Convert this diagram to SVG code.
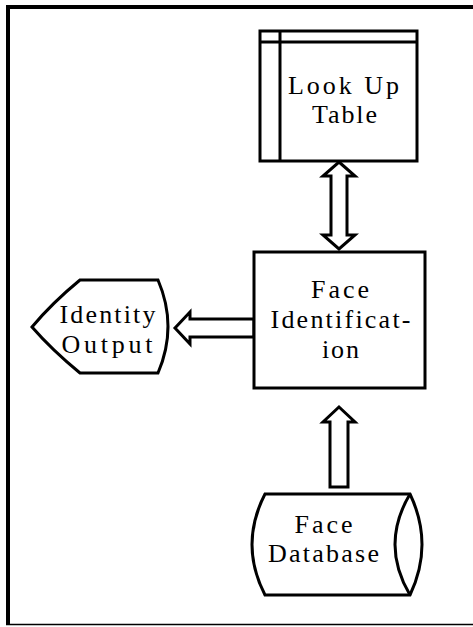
<svg xmlns="http://www.w3.org/2000/svg" width="473" height="627" viewBox="0 0 473 627">
  <style>
    .shape { fill: #fff; stroke: #000; stroke-width: 3; stroke-linejoin: miter; }
    .line { fill: none; stroke: #000; stroke-width: 3; }
    .arrow { fill: #fff; stroke: #000; stroke-width: 3; stroke-linejoin: miter; }
    text { font-family: 'Liberation Serif', 'DejaVu Serif', serif; font-size: 26px; text-anchor: middle; fill: #000; }
  </style>
  <rect width="473" height="627" fill="#fff"/>
  <!-- frame: heavy top/left, light bottom, open right -->
  <g id="frame">
    <line x1="6" y1="7" x2="473" y2="7" stroke="#000" stroke-width="4"/>
    <line x1="8" y1="5" x2="8" y2="625" stroke="#000" stroke-width="4"/>
    <line x1="6" y1="624.5" x2="473" y2="624.5" stroke="#000" stroke-width="1.5"/>
  </g>

  <g id="connectors">
    <!-- table <-> identification -->
    <path class="arrow" d="M339,162 L355,176 L347,176 L347,235 L355,235 L339,249 L323,235 L331,235 L331,176 L323,176 Z"/>
    <!-- identification -> output -->
    <path class="arrow" d="M175,328 L190,312 L190,319 L254,319 L254,337 L190,337 L190,344 Z"/>
    <!-- database -> identification -->
    <path class="arrow" d="M339,407 L355,422 L348,422 L348,487 L330,487 L330,422 L323,422 Z"/>
  </g>

  <g id="lookup-table">
    <rect class="shape" x="260" y="31" width="157" height="130"/>
    <line class="line" x1="260" y1="42" x2="417" y2="42"/>
    <line class="line" x1="280" y1="31" x2="280" y2="161"/>
    <text x="343.5" y="94" textLength="111" lengthAdjust="spacing">Look Up</text>
    <text x="344.5" y="123" textLength="65" lengthAdjust="spacing">Table</text>
  </g>

  <g id="face-identification">
    <rect class="shape" x="254" y="252" width="171" height="136"/>
    <text x="340" y="298" textLength="58" lengthAdjust="spacing">Face</text>
    <text x="340.5" y="328" textLength="140" lengthAdjust="spacing">Identificat-</text>
    <text x="340.5" y="358" textLength="37" lengthAdjust="spacing">ion</text>
  </g>

  <g id="identity-output">
    <path class="shape" d="M80,280 L158,280 Q178,326.5 158,373 L80,373 Q52,350 32,327 Q52,303 80,280 Z"/>
    <text x="107.5" y="322.5" textLength="96" lengthAdjust="spacing">Identity</text>
    <text x="107" y="352.5" textLength="91" lengthAdjust="spacing">Output</text>
  </g>

  <g id="face-database">
    <path class="shape" d="M265,494 L410,494 Q434,544.5 410,595 L265,595 Q239,544.5 265,494 Z"/>
    <path class="line" d="M410,494 Q380,544.5 410,595"/>
    <text x="323.5" y="533" textLength="58" lengthAdjust="spacing">Face</text>
    <text x="323.5" y="562" textLength="111" lengthAdjust="spacing">Database</text>
  </g>
</svg>
